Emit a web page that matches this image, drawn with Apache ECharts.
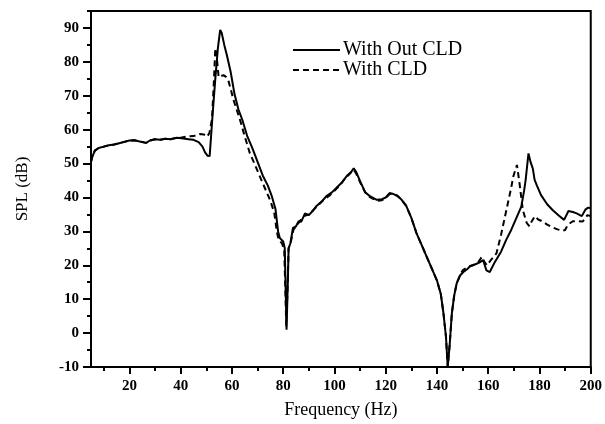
<!DOCTYPE html>
<html>
<head>
<meta charset="utf-8">
<script src="https://cdn.jsdelivr.net/npm/echarts@6/dist/echarts.min.js"></script>
<style>html,body{margin:0;padding:0;background:#fff;}#c{width:605px;height:424px;}</style>
</head>
<body>
<div id="c"></div>
<script>
// Series names
const seriesNames = ['With Out CLD', 'With CLD'];

// With Out CLD (solid)
const freqA = [5,5.5,6.5,8,10,12,14,16,18,20,22,24,26.5,28,30,32,34,36,38.5,41,43,45,47,48.5,49.5,50.5,51.3,52.5,53.5,54.5,55.4,56,57,58,59.5,61,62.5,64,66,68,70,72,74,75.5,77,78,78.7,80,80.6,81.3,81.8,82.1,82.8,83.8,85,86,87,88.5,90,91.5,93,95,97,99,101,103,105,106.5,107.5,108.5,110,112,114,116.5,118.5,120,121.5,123,124.5,126,128,130,132,134,136,138,140,141.5,142.5,143.5,144.2,145,145.8,146.7,147.7,149,150.3,152,153,155,156.5,158,159.3,160.6,162.6,165,167,169,171,172.9,174,174.6,175.7,176.5,177.4,178.1,179,180.6,183,185.1,187.5,189.6,191.3,193,194.5,196.5,198,199,200];
const splA = [50.5,52,53.8,54.6,55,55.4,55.6,56,56.4,56.8,56.9,56.5,56.1,56.8,57.2,57,57.3,57.2,57.6,57.4,57.2,57,56.3,55,53.3,52.3,52.2,65,75,84,89.4,88.5,85,82,77,70.5,66,63,58,54.5,50.5,46.5,43.5,40.5,36.5,30,28,27,25,1,15,25,26.5,31,31.5,33,32.8,35.3,34.8,36,37.5,38.8,40.5,41.5,43,44.5,46.5,47.5,48.6,47.5,44.8,41.5,40.3,39.3,39.5,40,41.3,41,40.5,39.5,37.5,34,29.5,26,22.5,19,15.5,11.5,6,-1,-10,-3,5.8,11,14.7,17,18,19,19.8,20.3,20.8,21.5,18.5,18,21,24,27.5,30.5,34,37.3,42,45.2,53,50.5,48.5,45.2,43.5,40.7,38,36.3,34.7,33.4,36,35.7,35.3,34.5,36.5,37,36.8];

// With CLD (dashed)
const freqB = [5,5.5,6.5,8,10,12,14,16,18,20,22,24,26.5,28,30,32,34,36,38.5,40,42.5,45,47.5,49,50.3,51.2,52.2,53,53.5,54,54.8,55.5,56.7,57.8,58.6,59.5,60.6,62,63.1,65,67,69,71,73,75,76.5,77.5,78.2,79.5,80.4,81.2,81.8,82.1,83,84,86,88,90,92,94,96,98,100,102,104,106,107.5,108.5,110,112,114,116.5,118.5,120,121.5,123,124.5,126,128,130,132,134,136,138,140,141.5,142.5,143.5,144.2,145,145.8,146.7,147.7,149,150,152,154,156,157.5,158.5,159.5,161,163.2,165,167,169,169.7,171.2,172.2,173.5,175,176.1,177,178.2,179.5,181.3,183,185,187,189,190,191,193,195,196.8,198,198.7,200];
const splB = [50.5,52,53.8,54.6,55,55.4,55.6,56,56.4,56.8,56.9,56.5,56.1,56.8,57.2,57,57.3,57.2,57.6,57.6,58,58.1,58.7,58.6,57.9,59,63,75,84,82,75.5,75.8,76.1,75.5,74.5,72,68.8,65.5,63,58,53,49.6,46,42.5,39,35.5,30,27.5,26.5,24.5,2,16,25,27,30.5,32.5,34.5,35,36.5,38,39.5,40.5,42,43.5,45.5,47,48.2,47,44.5,41.5,40,39,39.2,39.8,41,41,40.5,39.5,37.5,34,29.5,26,22.5,19,15.5,11.5,6,-1,-10,-3,5.8,11,14.7,17,18.5,19.5,20,20.8,22.5,21,20,21.5,23.5,29,36,43,46,49.6,44.2,36.3,32.5,31.5,33,34.5,33.5,32.9,32,31.2,30.6,30.2,30.4,31.9,33,33,32.9,34,34.8,34.5];

// Tick values
const xMajorTicks = [20,40,60,80,100,120,140,160,180,200];
const xMinorTicks = [10,30,50,70,90,110,130,150,170,190];
const yMajorTicks = [-10,0,10,20,30,40,50,60,70,80,90];
const yMinorTicks = [-5,5,15,25,35,45,55,65,75,85,95];

const pairs = (xs, ys) => xs.map((x, i) => [x, ys[i]]);
const FONT = 'Liberation Serif';

const chart = echarts.init(document.getElementById('c'), null, {renderer: 'canvas'});
chart.setOption({
  animation: false,
  backgroundColor: '#fff',
  grid: {left: 91, right: 8, top: 11, bottom: 57, show: true, borderColor: '#000', borderWidth: 2, backgroundColor: 'transparent'},
  legend: {
    data: seriesNames,
    orient: 'vertical',
    left: 287, top: 35,
    itemWidth: 47, itemHeight: 14, itemGap: 0,
    itemStyle: {opacity: 0},
    textStyle: {fontFamily: FONT, fontSize: 20, color: '#000', padding: [0, 0, 0, -2]}
  },
  xAxis: [{
    type: 'value', min: 5, max: 200,
    name: 'Frequency (Hz)', nameLocation: 'middle', nameGap: 34,
    nameTextStyle: {fontFamily: FONT, fontSize: 18, color: '#000'},
    axisLine: {show: true, onZero: false, lineStyle: {color: '#000', width: 2}},
    axisTick: {show: true, length: 7, lineStyle: {color: '#000', width: 2}, customValues: xMajorTicks},
    axisLabel: {customValues: xMajorTicks, fontFamily: FONT, fontSize: 15, fontWeight: 'bold', color: '#000', margin: 12},
    splitLine: {show: false}
  }, {
    type: 'value', min: 5, max: 200, position: 'bottom',
    axisLine: {show: false, onZero: false},
    axisTick: {show: true, length: 4, lineStyle: {color: '#000', width: 2}, customValues: xMinorTicks},
    axisLabel: {show: false},
    splitLine: {show: false}
  }],
  yAxis: [{
    type: 'value', min: -10, max: 95,
    name: 'SPL (dB)', nameLocation: 'middle', nameGap: 60, nameRotate: 90,
    nameTextStyle: {fontFamily: FONT, fontSize: 17, color: '#000'},
    axisLine: {show: true, onZero: false, lineStyle: {color: '#000', width: 2}},
    axisTick: {show: true, length: 8, lineStyle: {color: '#000', width: 2}, customValues: yMajorTicks},
    axisLabel: {customValues: yMajorTicks, fontFamily: FONT, fontSize: 15, fontWeight: 'bold', color: '#000', margin: 12},
    splitLine: {show: false}
  }, {
    type: 'value', min: -10, max: 95, position: 'left',
    axisLine: {show: false, onZero: false},
    axisTick: {show: true, length: 4, lineStyle: {color: '#000', width: 2}, customValues: yMinorTicks},
    axisLabel: {show: false},
    splitLine: {show: false}
  }],
  series: [{
    name: seriesNames[0], type: 'line', xAxisIndex: 0, yAxisIndex: 0,
    data: pairs(freqA, splA), showSymbol: false, symbol: 'none',
    lineStyle: {color: '#000', width: 2}, itemStyle: {color: '#000'}, z: 3
  }, {
    name: seriesNames[1], type: 'line', xAxisIndex: 0, yAxisIndex: 0,
    data: pairs(freqB, splB), showSymbol: false, symbol: 'none',
    lineStyle: {color: '#000', width: 2, type: [6, 4]}, itemStyle: {color: '#000'}, z: 2
  }]
});
</script>
</body>
</html>
